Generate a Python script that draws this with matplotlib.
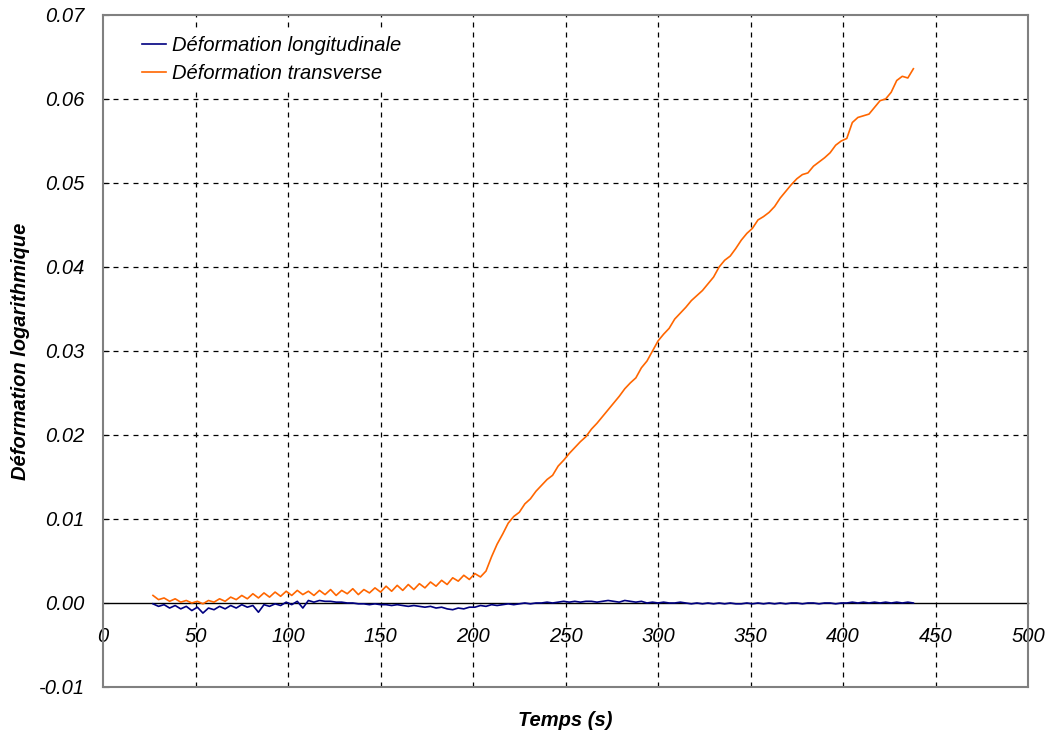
import numpy as np
import matplotlib.pyplot as plt

temps = np.arange(27, 439, 3)

transverse_e4 = [
    9, 4, 6, 2, 5, 1, 3, 0, 2, -1, 3, 1, 5, 2, 7, 4, 9, 5, 11, 6,
    12, 7, 13, 8, 14, 9, 15, 10, 14, 9, 15, 10, 16, 9, 15, 11, 17, 10, 16, 12,
    18, 13, 20, 14, 21, 15, 22, 16, 23, 18, 25, 20, 27, 22, 30, 26, 33, 28, 35, 31,
    38, 55, 70, 82, 95, 103, 108, 118, 124, 133, 140, 147, 152, 163, 170, 178, 185, 192, 198, 207,
    214, 222, 230, 238, 246, 255, 262, 268, 280, 288, 300, 312, 320, 327, 338, 345, 352, 360, 366, 372,
    380, 388, 400, 408, 413, 422, 432, 440, 446, 456, 460, 465, 472, 482, 490, 498, 505, 510, 512, 520,
    525, 530, 536, 545, 550, 553, 572, 578, 580, 582, 590, 598, 600, 608, 622, 627, 625, 636,
]

longitudinal_e4 = [
    -1, -4, -2, -6, -3, -7, -4, -9, -5, -12, -6, -8, -4, -7, -3, -6, -2, -5, -3, -11,
    -2, -4, -1, -3, 1, -2, 2, -6, 3, 1, 3, 2, 2, 1, 1, 0, 0, -1, -1, -2,
    -1, -2, -2, -3, -2, -3, -4, -3, -4, -5, -4, -6, -5, -7, -8, -6, -7, -5, -5, -3,
    -4, -2, -3, -2, -1, -2, -1, 0, -1, 0, 0, 1, 0, 1, 2, 1, 2, 1, 2, 2,
    1, 2, 3, 2, 1, 3, 2, 1, 2, 0, 1, 0, 1, 0, 0, 1, 0, -1, 0, -1,
    0, -1, 0, -1, 0, -1, -1, 0, -1, 0, -1, 0, -1, 0, -1, 0, 0, -1, 0, 0,
    -1, 0, 0, -1, 0, 0, 1, 0, 1, 0, 1, 0, 1, 0, 1, 0, 1, 0,
]

transverse = np.array(transverse_e4) * 1e-4
longitudinal = np.array(longitudinal_e4) * 1e-4

x_ticks = [0, 50, 100, 150, 200, 250, 300, 350, 400, 450, 500]
y_ticks = [-0.01, 0.00, 0.01, 0.02, 0.03, 0.04, 0.05, 0.06, 0.07]

plt.rcParams['font.family'] = ['Liberation Sans', 'DejaVu Sans']
fs = 14.5

fig = plt.figure(figsize=(10.48, 7.31), dpi=100)
ax = fig.add_axes([0.0983, 0.0602, 0.8827, 0.9193])

ax.plot(temps, longitudinal, color='#000080', lw=1.2, label='Déformation longitudinale', zorder=3)
ax.plot(temps, transverse, color='#FF6600', lw=1.2, label='Déformation transverse', zorder=4)

ax.set_xlim(0, 500)
ax.set_ylim(-0.01, 0.07)
ax.set_xticks(x_ticks)
ax.set_yticks(y_ticks)
ax.set_xticklabels([str(v) for v in x_ticks])
ax.set_yticklabels([f'{v:.2f}' for v in y_ticks])

# dashed black grid like the original spreadsheet chart
for v in x_ticks[1:-1]:
    ax.axvline(v, color='black', lw=0.9, ls=(0, (4, 4)), zorder=1)
for v in y_ticks[2:-1]:
    ax.axhline(v, color='black', lw=0.9, ls=(0, (4, 4)), zorder=1)

# frame in grey, x axis sits on the zero line
for side in ['left', 'top', 'right']:
    ax.spines[side].set_color('#808080')
    ax.spines[side].set_linewidth(1.5)
ax.spines['bottom'].set_position(('data', 0))
ax.spines['bottom'].set_color('black')
ax.spines['bottom'].set_linewidth(1.0)
ax.spines['bottom'].set_zorder(2)
ax.axhline(-0.01, color='#808080', lw=1.5, clip_on=False, zorder=5)

ax.tick_params(axis='x', direction='in', length=0, pad=17, labelsize=fs)
ax.tick_params(axis='y', direction='in', length=4, pad=13, labelsize=fs)
for lab in ax.get_xticklabels() + ax.get_yticklabels():
    lab.set_style('italic')

ax.set_xlabel('Temps (s)', fontsize=fs, fontweight='bold', style='italic')
ax.xaxis.set_label_coords(0.5, -0.035)
ax.set_ylabel('Déformation logarithmique', fontsize=fs, fontweight='bold', style='italic')
ax.yaxis.set_label_coords(-0.079, 0.5)

leg = ax.legend(loc='upper left', bbox_to_anchor=(0.027, 0.99), frameon=True, fontsize=fs,
                handlelength=1.2, handletextpad=0.3, borderaxespad=0.3, labelspacing=0.45)
leg.get_frame().set_edgecolor('white')
leg.get_frame().set_facecolor('white')
leg.get_frame().set_alpha(1.0)
for t in leg.get_texts():
    t.set_style('italic')

fig.savefig('out.png', dpi=100)
